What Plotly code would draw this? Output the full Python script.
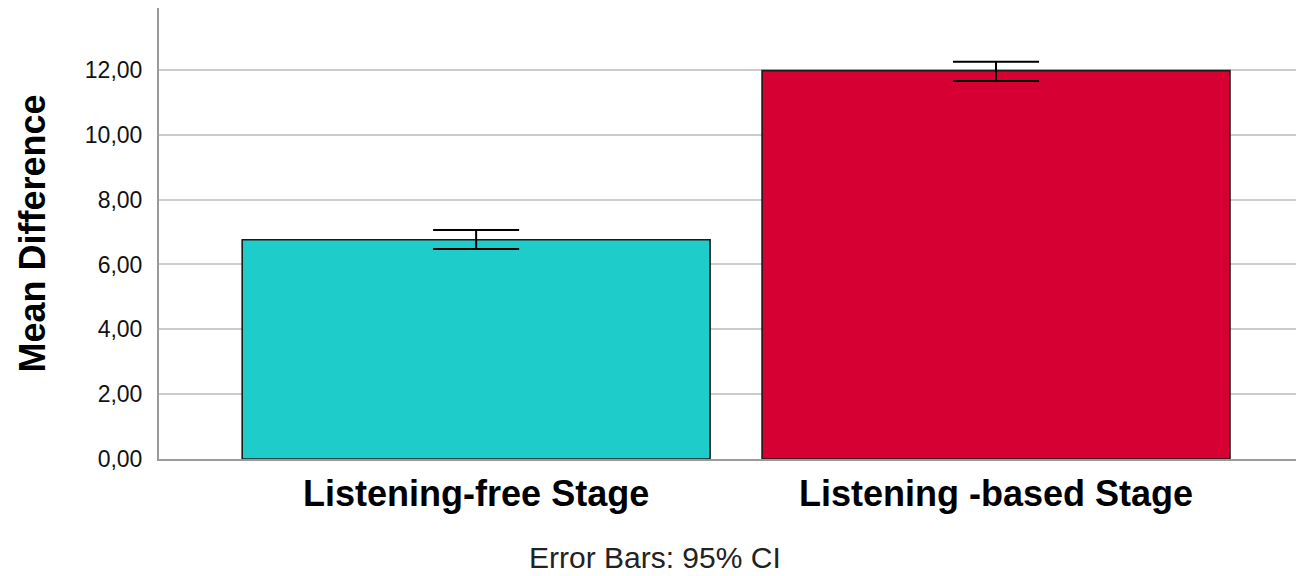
import plotly.graph_objects as go

# Group means with 95% confidence interval bounds
categories = ["Listening-free Stage", "Listening -based Stage"]
means = [6.76, 11.98]
ci_upper = [7.06, 12.25]
ci_lower = [6.48, 11.66]
bar_colors = ["#1ECDCA", "#D60032"]

y_ticks = [0, 2, 4, 6, 8, 10, 12]
y_tick_labels = ["0,00", "2,00", "4,00", "6,00", "8,00", "10,00", "12,00"]

x_pos = list(range(len(categories)))
err_plus = [u - m for u, m in zip(ci_upper, means)]
err_minus = [m - l for m, l in zip(means, ci_lower)]

fig = go.Figure()
fig.add_trace(go.Bar(
    x=x_pos,
    y=means,
    width=0.9,
    marker=dict(color=bar_colors, line=dict(color="#1a1a1a", width=1.6)),
    error_y=dict(type="data", symmetric=False, array=err_plus, arrayminus=err_minus,
                 color="black", thickness=2, width=43),
    showlegend=False,
))

fig.update_layout(
    width=1296, height=576,
    margin=dict(l=159, r=0, t=8, b=117),
    paper_bgcolor="white", plot_bgcolor="white",
    font=dict(family="Liberation Sans, Arial, sans-serif", color="black"),
    xaxis=dict(
        range=[-0.61, 1.577],
        tickvals=x_pos, ticktext=["<b>%s</b>" % c for c in categories],
        tickfont=dict(size=36), ticks="", showgrid=False, zeroline=False,
        showline=True, linecolor="#9a9a9a", linewidth=2,
        ticklabelstandoff=2,
    ),
    yaxis=dict(
        range=[0, 13.91],
        tickvals=y_ticks, ticktext=y_tick_labels,
        tickfont=dict(size=23, color="#111111"), ticks="", ticklabelstandoff=10,
        showgrid=True, gridcolor="#cccccc", gridwidth=2, zeroline=False,
        showline=True, linecolor="#9a9a9a", linewidth=2,
        title=dict(text="<b>Mean Difference</b>", font=dict(size=36), standoff=28),
    ),
    annotations=[dict(
        text="Error Bars: 95% CI", xref="paper", yref="paper",
        x=(655 - 159) / (1296 - 159), y=-(557 - 459) / (576 - 8 - 117),
        xanchor="center", yanchor="middle",
        showarrow=False, font=dict(size=30, color="#222222"),
    )],
)

fig.write_html("out.html")
